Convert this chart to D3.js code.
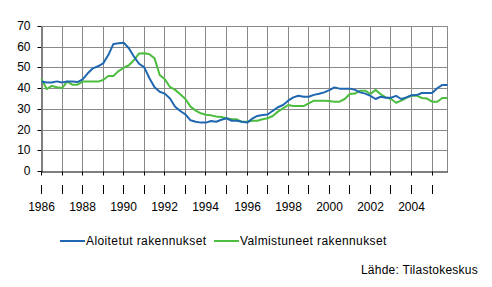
<!DOCTYPE html>
<html><head><meta charset="utf-8">
<script src="https://cdn.jsdelivr.net/npm/d3@7"></script>
<style>body{margin:0;background:#fff}svg{display:block}text{font-family:"Liberation Sans",Arial,sans-serif;fill:#000}</style>
</head><body><svg id="c" width="492" height="287"></svg>
<script>
const startYear = 1986;
const yTicks = [0,10,20,30,40,50,60,70];
const yearTicks = d3.range(1986, 2006);
const yearLabels = [1986,1988,1990,1992,1994,1996,1998,2000,2002,2004];
const seriesNames = ["Aloitetut rakennukset","Valmistuneet rakennukset"];
// quarterly values 1986Q1..2005Q4
const aloitetut = [43.4,43,43,43.5, 43,43.5,43.4,43.2, 44.5,47.4,49.8,50.8, 52.2,56.2,61.6,61.9,
 62.2,59.5,55.4,52, 50.3,45,40.7,38.5, 37.6,35.2,31.3,29.2, 27.6,24.7,24,23.6,
 23.6,24.4,24,25, 25.7,24.5,24.5,24, 23.6,25.5,26.8,27.3, 27.5,29.3,31,32.1,
 34.2,35.8,36.6,36.1, 36.1,37,37.5,38.2, 39.3,40.6,40,40, 40,39.4,38.2,37.6,
 36.5,35,36.1,35.6, 35.6,36.5,35,35.8, 36.8,36.9,37.9,37.9, 37.9,40.2,41.8,41.8];
const valmistuneet = [44.7,39.8,41.3,40.7, 40.3,43.4,41.9,41.9, 43.4,43.4,43.4,43.4, 44.2,46.1,46.1,48.5,
 50.1,51.3,53.8,57, 57.1,56.6,54.6,46.6, 44.5,40.8,39.4,37.3, 35,31.3,29.4,28.1,
 27.4,27.1,26.6,26.3, 25.7,25.2,25.2,24, 24,24.5,24.5,25.2, 25.7,26.8,28.9,30.5,
 32.1,31.6,31.6,31.6, 32.9,34.2,34.2,34.2, 34,33.7,33.7,35, 37.4,37.6,39,39,
 37.4,39.4,37.3,35.8, 35,33.2,34.2,35.6, 36.6,36.6,35.5,35.2, 33.7,33.7,35.5,35.5];
const colors = ["#1f67b1","#4dbd3f"];
const gridColor = "#888888";

const svg = d3.select("#c");
const L = 41.5, R = 447.5, T = 26.5, B = 171.5;
const x = d3.scaleLinear().domain([1986, 2005.75]).range([L, R]);
const y = d3.scaleLinear().domain([0, 70]).range([B, T]);
const pix = v => Math.round(v - 0.5);

// y axis with gridlines (tick lines stretched across the plot)
const ya = svg.append("g").attr("transform", `translate(${L},0)`)
  .call(d3.axisLeft(y).tickValues(yTicks).tickSize(4).tickPadding(7).tickSizeOuter(0));
ya.selectAll(".tick").attr("transform", d => `translate(0,${pix(y(d)) + 0.5})`);
ya.selectAll(".tick line").attr("stroke", "#000");
ya.selectAll(".tick").filter(d => d > 0).append("line").attr("class", "grid")
  .attr("x1", 0).attr("x2", R - L).attr("stroke", gridColor).attr("stroke-width", 1);
ya.selectAll("text").attr("font-size", 12).attr("font-family", '"Liberation Sans",Arial,sans-serif');

// x axis with gridlines
const xa = svg.append("g").attr("transform", `translate(0,${B})`)
  .call(d3.axisBottom(x).tickValues(yearTicks).tickSize(4).tickFormat("").tickSizeOuter(0));
xa.selectAll(".tick").attr("transform", d => `translate(${pix(x(d)) + 0.5},0)`);
xa.selectAll(".tick line").attr("stroke", "#000");
xa.selectAll(".tick").filter(d => d > 1986).append("line").attr("class", "grid")
  .attr("y1", 0).attr("y2", -(B - T)).attr("stroke", gridColor).attr("stroke-width", 1);
xa.append("line").attr("x1", R).attr("x2", R).attr("y1", 0).attr("y2", -(B - T))
  .attr("stroke", gridColor).attr("stroke-width", 1);
xa.append("line").attr("x1", L).attr("x2", R).attr("y1", -(B - T)).attr("y2", -(B - T))
  .attr("stroke", gridColor).attr("stroke-width", 1);
xa.select(".domain").attr("stroke", "#000").raise();
ya.select(".domain").attr("stroke", "#000");
ya.raise();

// second row of ticks with labels
const xb = svg.append("g").attr("transform", `translate(0,185)`)
  .call(d3.axisBottom(x).tickValues(yearTicks).tickSize(9).tickPadding(8)
    .tickFormat(d => yearLabels.includes(d) ? String(d) : ""));
xb.select(".domain").remove();
xb.selectAll(".tick").attr("transform", d => `translate(${pix(x(d)) + 0.5},0)`);
xb.selectAll(".tick line").attr("stroke", "#000");
xb.selectAll("text").attr("font-size", 12).attr("font-family", '"Liberation Sans",Arial,sans-serif');

// lines (drawn above the gridlines)
const line = d3.line().x((d,i)=>x(startYear + i/4)).y(d=>y(d));
[[valmistuneet, colors[1]], [aloitetut, colors[0]]].forEach(([s, c]) => {
  svg.append("path").datum(s).attr("d", line).attr("fill", "none")
    .attr("stroke", c).attr("stroke-width", 2).attr("stroke-linejoin", "round");
});

// legend
const legX = [60, 214];
seriesNames.forEach((n, i) => {
  svg.append("line").attr("x1", legX[i]).attr("x2", legX[i]+25).attr("y1", 241).attr("y2", 241)
    .attr("stroke", colors[i]).attr("stroke-width", 2);
  svg.append("text").attr("x", legX[i]+26).attr("y", 245).attr("font-size", 12)
    .attr("letter-spacing", "0.4px").text(n);
});

svg.append("text").attr("x", 478).attr("y", 274).attr("text-anchor", "end").attr("font-size", 12)
  .attr("letter-spacing", "0.25px").text("Lähde: Tilastokeskus");
</script></body></html>
